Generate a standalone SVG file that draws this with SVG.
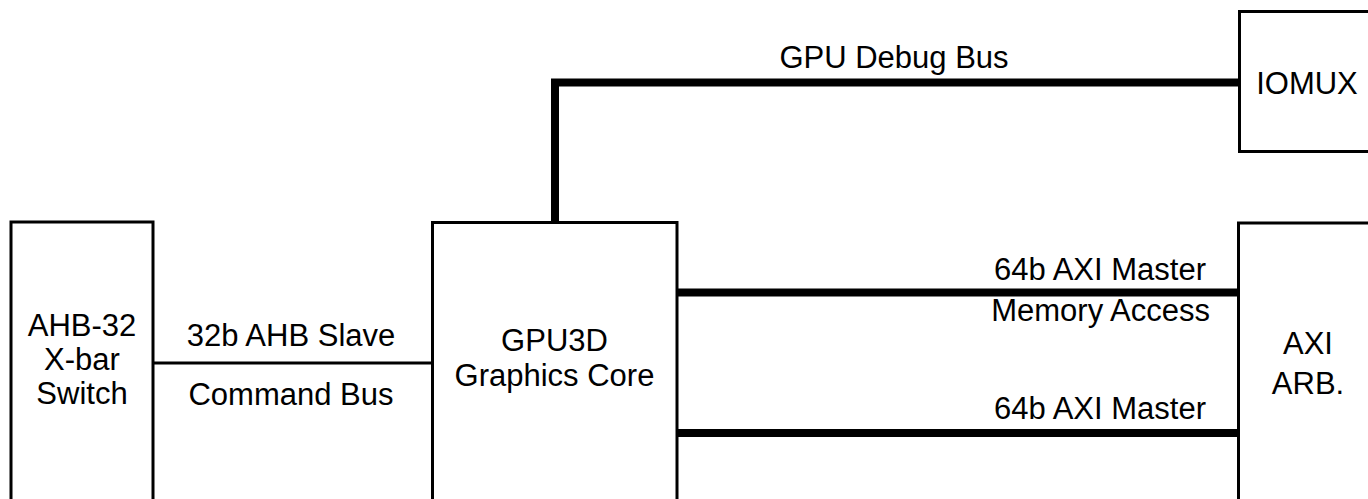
<svg xmlns="http://www.w3.org/2000/svg" width="1368" height="499" viewBox="0 0 1368 499">
<style>
.box{fill:#fff;stroke:#000;stroke-width:3}
.t{font-family:"Liberation Sans",Arial,Helvetica,sans-serif;font-size:31px;fill:#000;text-anchor:middle}
.r{text-anchor:end}
.thin{stroke:#000;stroke-width:3;fill:none}
.thick{stroke:#000;stroke-width:8;fill:none}
</style>
<rect width="1368" height="499" fill="#fff"/>
<g id="connectors">
<line class="thin" x1="153" y1="363" x2="432" y2="363"/>
<polyline class="thick" points="555,222 555,82.5 1239,82.5"/>
<line class="thick" x1="677" y1="292.5" x2="1238" y2="292.5"/>
<line class="thick" x1="677" y1="433" x2="1238" y2="433"/>
<text class="t" x="291" y="346">32b AHB Slave</text>
<text class="t" x="291" y="405">Command Bus</text>
<text class="t" x="894" y="68">GPU Debug Bus</text>
<text class="t r" x="1206" y="280">64b AXI Master</text>
<text class="t r" x="1210" y="321">Memory Access</text>
<text class="t r" x="1206" y="419">64b AXI Master</text>
</g>
<g id="ahb">
<rect class="box" x="11" y="222" width="142" height="300"/>
<text class="t" x="82" y="336">AHB-32</text>
<text class="t" x="82" y="370">X-bar</text>
<text class="t" x="82" y="404">Switch</text>
</g>
<g id="gpu3d">
<rect class="box" x="432.5" y="222.5" width="244.5" height="300"/>
<text class="t" x="554.5" y="351">GPU3D</text>
<text class="t" x="554.5" y="386">Graphics Core</text>
</g>
<g id="iomux">
<rect class="box" x="1239.5" y="11.5" width="140" height="140"/>
<text class="t" x="1307" y="94">IOMUX</text>
</g>
<g id="axiarb">
<rect class="box" x="1238.5" y="223" width="140" height="300"/>
<text class="t" x="1308" y="354">AXI</text>
<text class="t" x="1308" y="394">ARB.</text>
</g>
</svg>
